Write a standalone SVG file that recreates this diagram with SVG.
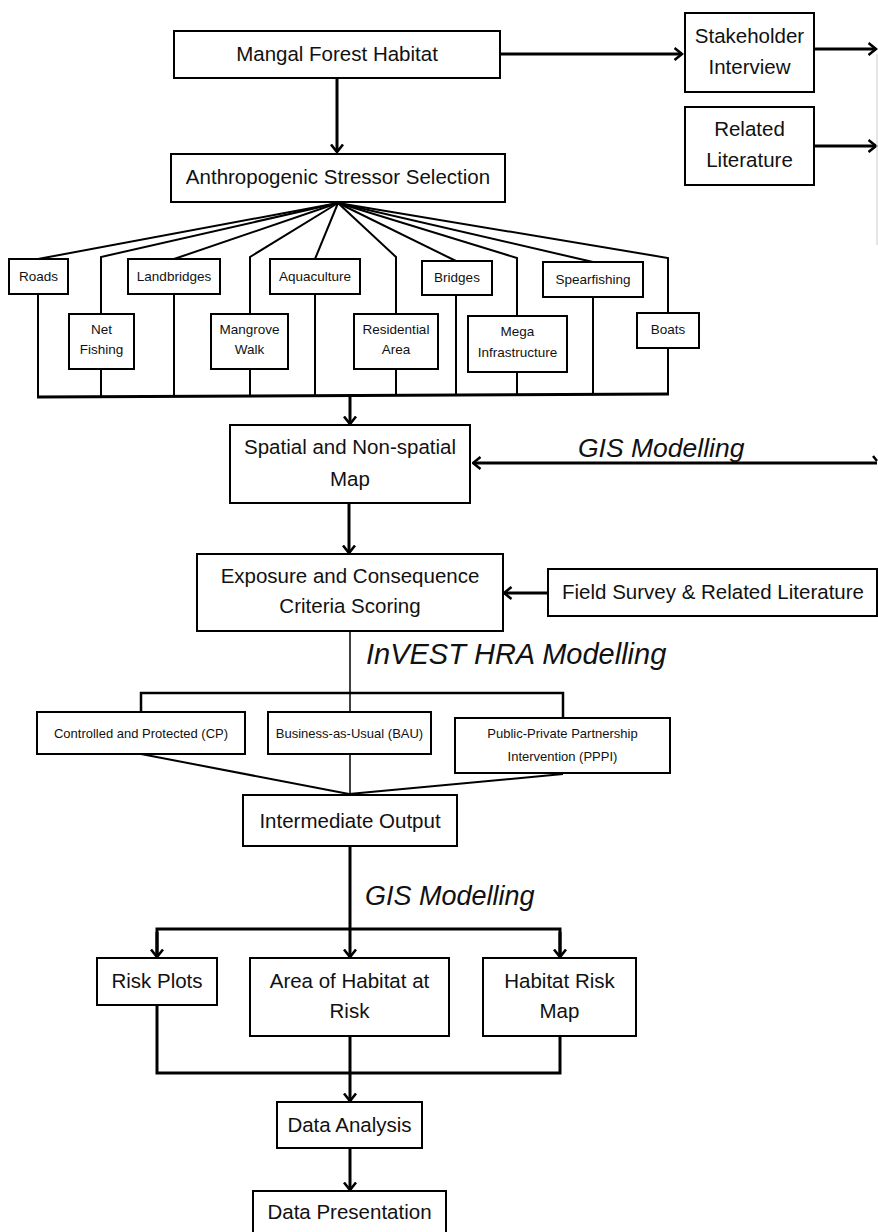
<svg xmlns="http://www.w3.org/2000/svg" width="878" height="1232" viewBox="0 0 878 1232">
<style>
.box{fill:#fff;stroke:#000;stroke-width:2}
.t{font-family:"Liberation Sans",Arial,sans-serif;font-size:20.5px;fill:#111;text-anchor:middle}
.s{font-family:"Liberation Sans",Arial,sans-serif;font-size:13.5px;fill:#111;text-anchor:middle}
.sc{font-family:"Liberation Sans",Arial,sans-serif;font-size:13px;fill:#111;text-anchor:middle}
.it{font-family:"Liberation Sans",Arial,sans-serif;font-style:italic;fill:#111}
.c{fill:none;stroke:#000;stroke-width:3}
.f{fill:none;stroke:#000;stroke-width:2}
.a{fill:none;stroke:#000;stroke-width:3;marker-end:url(#ah)}
</style>
<defs>
<marker id="ah" viewBox="0 0 10 14" refX="8.5" refY="7" markerWidth="10" markerHeight="14" markerUnits="userSpaceOnUse" orient="auto">
<path d="M1,1 L8.5,7 L1,13" fill="none" stroke="#000" stroke-width="2.6"/>
</marker>
</defs>
<rect width="878" height="1232" fill="#fff"/>

<g id="connectors">
<line class="a" x1="337" y1="78" x2="337" y2="152"/>
<line class="a" x1="500" y1="54" x2="682" y2="54"/>
<line class="a" x1="814" y1="49" x2="876" y2="49"/>
<line class="a" x1="814" y1="146" x2="876" y2="146"/>
<line x1="877" y1="54" x2="877" y2="245" stroke="#ccc" stroke-width="1"/>
<path d="M873,456 L877,461" stroke="#000" stroke-width="2.5" fill="none"/>
<g class="f">
<line x1="338" y1="203" x2="38" y2="259"/>
<polyline points="338,203 101,257 101,314"/>
<line x1="338" y1="203" x2="174" y2="259"/>
<polyline points="338,203 250,257 250,314"/>
<line x1="338" y1="203" x2="315" y2="259"/>
<polyline points="338,203 396,257 396,314"/>
<line x1="338" y1="203" x2="456" y2="261"/>
<polyline points="338,203 517,258 517,316"/>
<line x1="338" y1="203" x2="593" y2="262"/>
<polyline points="338,203 668,258 668,313"/>
<line x1="38" y1="294" x2="38" y2="397"/>
<line x1="101" y1="369" x2="101" y2="397"/>
<line x1="174" y1="294" x2="174" y2="397"/>
<line x1="250" y1="369" x2="250" y2="396"/>
<line x1="315" y1="294" x2="315" y2="396"/>
<line x1="396" y1="369" x2="396" y2="396"/>
<line x1="456" y1="295" x2="456" y2="395"/>
<line x1="517" y1="372" x2="517" y2="395"/>
<line x1="593" y1="297" x2="593" y2="395"/>
<line x1="668" y1="348" x2="668" y2="394"/>
</g>
<line class="c" x1="37" y1="397" x2="669" y2="394"/>
<line class="a" x1="350" y1="397" x2="350" y2="424"/>
<line class="a" x1="877" y1="463" x2="473" y2="463"/>
<line class="a" x1="349" y1="503" x2="349" y2="553"/>
<line class="a" x1="548" y1="593" x2="504" y2="593"/>
<line x1="350" y1="631" x2="350" y2="795" stroke="#000" stroke-width="1.5"/>
<polyline points="141,712 141,693 563,693 563,717" fill="none" stroke="#000" stroke-width="2.5"/>
<line class="f" x1="141" y1="754" x2="349" y2="794"/>
<line class="f" x1="563" y1="774" x2="349" y2="794"/>
<line class="c" x1="350" y1="846" x2="350" y2="929"/>
<polyline class="c" points="157,956 157,929 560,929 560,956"/>
<line class="a" x1="157" y1="932" x2="157" y2="957"/>
<line class="a" x1="350" y1="929" x2="350" y2="957"/>
<line class="a" x1="560" y1="932" x2="560" y2="957"/>
<polyline class="c" points="157,1005 157,1073 560,1073 560,1036"/>
<line class="c" x1="350" y1="1036" x2="350" y2="1073"/>
<line class="a" x1="350" y1="1073" x2="350" y2="1101"/>
<line class="a" x1="350" y1="1148" x2="350" y2="1190"/>
</g>

<text class="it" x="578" y="457" font-size="26.5">GIS Modelling</text>
<text class="it" x="366" y="664" font-size="29">InVEST HRA Modelling</text>
<text class="it" x="365" y="905" font-size="27">GIS Modelling</text>

<g id="mangal"><rect class="box" x="174" y="31" width="326" height="47"/><text class="t" x="337" y="61">Mangal Forest Habitat</text></g>
<g id="stakeholder"><rect class="box" x="685" y="13" width="129" height="79"/><text class="t" x="749.5" y="43">Stakeholder</text><text class="t" x="749.5" y="74">Interview</text></g>
<g id="related"><rect class="box" x="685" y="107" width="129" height="78"/><text class="t" x="749.5" y="136">Related</text><text class="t" x="749.5" y="167">Literature</text></g>
<g id="anthropogenic"><rect class="box" x="171" y="154" width="334" height="48"/><text class="t" x="338" y="184">Anthropogenic Stressor Selection</text></g>

<g id="roads"><rect class="box" x="9" y="259" width="59" height="35"/><text class="s" x="38.5" y="281">Roads</text></g>
<g id="netfishing"><rect class="box" x="69" y="314" width="65" height="55"/><text class="s" x="101.5" y="334">Net</text><text class="s" x="101.5" y="354">Fishing</text></g>
<g id="landbridges"><rect class="box" x="128" y="259" width="92" height="35"/><text class="s" x="174" y="281">Landbridges</text></g>
<g id="mangrovewalk"><rect class="box" x="211" y="314" width="77" height="55"/><text class="s" x="249.5" y="334">Mangrove</text><text class="s" x="249.5" y="354">Walk</text></g>
<g id="aquaculture"><rect class="box" x="270" y="259" width="90" height="35"/><text class="s" x="315" y="281">Aquaculture</text></g>
<g id="residential"><rect class="box" x="354" y="314" width="84" height="55"/><text class="s" x="396" y="334">Residential</text><text class="s" x="396" y="354">Area</text></g>
<g id="bridges"><rect class="box" x="422" y="261" width="70" height="34"/><text class="s" x="457" y="282">Bridges</text></g>
<g id="mega"><rect class="box" x="468" y="316" width="99" height="56"/><text class="s" x="517.5" y="336">Mega</text><text class="s" x="517.5" y="357">Infrastructure</text></g>
<g id="spearfishing"><rect class="box" x="543" y="262" width="100" height="35"/><text class="s" x="593" y="284">Spearfishing</text></g>
<g id="boats"><rect class="box" x="637" y="313" width="62" height="35"/><text class="s" x="668" y="334">Boats</text></g>

<g id="spatial"><rect class="box" x="230" y="425" width="240" height="78"/><text class="t" x="350" y="454">Spatial and Non-spatial</text><text class="t" x="350" y="486">Map</text></g>
<g id="exposure"><rect class="box" x="197" y="554" width="306" height="77"/><text class="t" x="350" y="583">Exposure and Consequence</text><text class="t" x="350" y="613">Criteria Scoring</text></g>
<g id="fieldsurvey"><rect class="box" x="548" y="569" width="329" height="47"/><text class="t" x="713" y="599">Field Survey &amp; Related Literature</text></g>

<g id="cp"><rect class="box" x="37" y="712" width="208" height="42"/><text class="sc" x="141" y="738">Controlled and Protected (CP)</text></g>
<g id="bau"><rect class="box" x="268" y="712" width="163" height="42"/><text class="sc" x="349.5" y="738">Business-as-Usual (BAU)</text></g>
<g id="pppi"><rect class="box" x="455" y="718" width="215" height="55"/><text class="sc" x="562.5" y="738">Public-Private Partnership</text><text class="sc" x="562.5" y="761">Intervention (PPPI)</text></g>
<g id="intermediate"><rect class="box" x="243" y="795" width="214" height="51"/><text class="t" x="350" y="828">Intermediate Output</text></g>

<g id="riskplots"><rect class="box" x="97" y="958" width="120" height="47"/><text class="t" x="157" y="988">Risk Plots</text></g>
<g id="areaofhabitat"><rect class="box" x="250" y="958" width="199" height="78"/><text class="t" x="349.5" y="988">Area of Habitat at</text><text class="t" x="349.5" y="1018">Risk</text></g>
<g id="habitatriskmap"><rect class="box" x="483" y="958" width="153" height="78"/><text class="t" x="559.5" y="988">Habitat Risk</text><text class="t" x="559.5" y="1018">Map</text></g>
<g id="dataanalysis"><rect class="box" x="277" y="1102" width="145" height="46"/><text class="t" x="349.5" y="1132">Data Analysis</text></g>
<g id="datapresentation"><rect class="box" x="253" y="1191" width="193" height="50"/><text class="t" x="349.5" y="1219">Data Presentation</text></g>
</svg>
